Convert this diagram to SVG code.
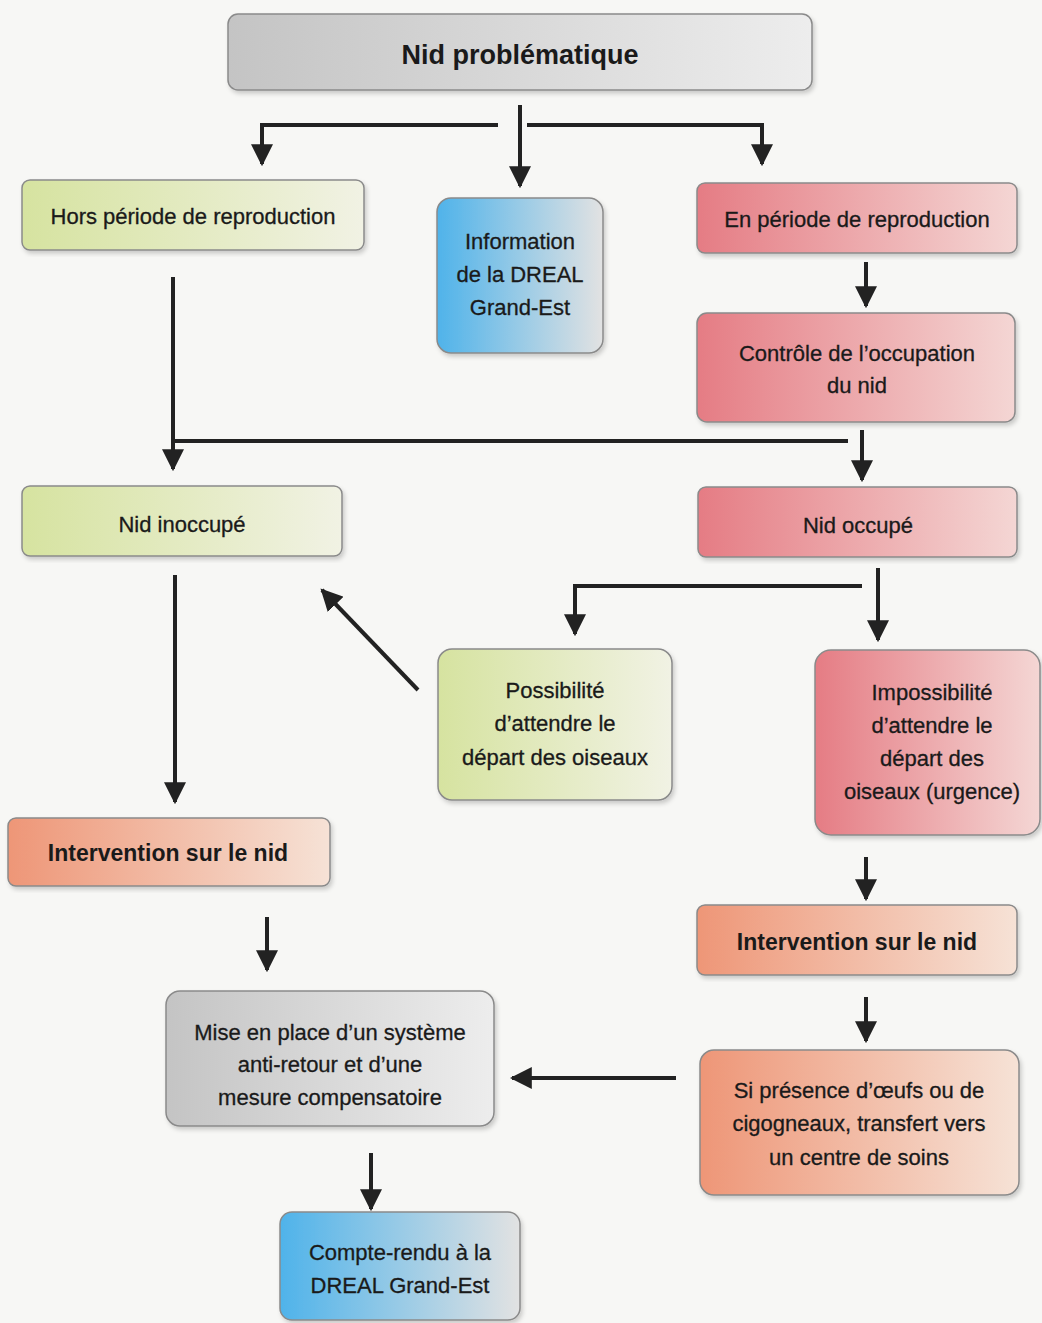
<svg xmlns="http://www.w3.org/2000/svg" width="1042" height="1323" viewBox="0 0 1042 1323">
<defs>
<linearGradient id="gGray" x1="0" y1="0" x2="1" y2="0"><stop offset="0" stop-color="#c4c4c4"/><stop offset="1" stop-color="#ededed"/></linearGradient>
<linearGradient id="gGreen" x1="0" y1="0" x2="1" y2="0"><stop offset="0" stop-color="#d6e3a0"/><stop offset="1" stop-color="#f1f2e4"/></linearGradient>
<linearGradient id="gRed" x1="0" y1="0" x2="1" y2="0"><stop offset="0" stop-color="#e57c84"/><stop offset="1" stop-color="#f4d6d4"/></linearGradient>
<linearGradient id="gOrange" x1="0" y1="0" x2="1" y2="0"><stop offset="0" stop-color="#ee9677"/><stop offset="1" stop-color="#f6e2d6"/></linearGradient>
<linearGradient id="gBlue" x1="0" y1="0" x2="1" y2="0"><stop offset="0" stop-color="#4fb3ea"/><stop offset="1" stop-color="#e2e2e2"/></linearGradient>
<marker id="ah" viewBox="0 0 10 10" refX="9" refY="5" markerWidth="5.5" markerHeight="5.5" markerUnits="strokeWidth" orient="auto"><path d="M0,0 L10,5 L0,10 z" fill="#222"/></marker>
<filter id="sh" x="-5%" y="-5%" width="112%" height="115%"><feDropShadow dx="2" dy="3" stdDeviation="2" flood-color="#000" flood-opacity="0.18"/></filter>
</defs>
<style>
.box{stroke:#8a8a8a;stroke-width:1.5;filter:url(#sh)}
.t{font-family:"Liberation Sans",Arial,sans-serif;font-size:22px;fill:#1a1a1a;text-anchor:middle;stroke:#1a1a1a;stroke-width:0.3}
.b{font-weight:bold;stroke-width:0;font-size:23px}
.title{font-size:27px}
.c{fill:none;stroke:#222;stroke-width:4}
.a{marker-end:url(#ah)}
</style>
<rect width="1042" height="1323" fill="#f7f7f5"/>

<g id="connectors">
<line class="c a" x1="520" y1="105" x2="520" y2="186"/>
<polyline class="c a" points="498,125 262,125 262,164"/>
<polyline class="c a" points="527,125 762,125 762,164"/>
<line class="c a" x1="866" y1="262" x2="866" y2="306"/>
<line class="c a" x1="173" y1="277" x2="173" y2="469"/>
<line class="c" x1="173" y1="441" x2="848" y2="441"/>
<line class="c a" x1="862" y1="430" x2="862" y2="480"/>
<line class="c a" x1="175" y1="575" x2="175" y2="802"/>
<polyline class="c a" points="862,586 575,586 575,634"/>
<line class="c a" x1="878" y1="568" x2="878" y2="640"/>
<line class="c a" x1="418" y1="690" x2="322" y2="590"/>
<line class="c a" x1="267" y1="917" x2="267" y2="970"/>
<line class="c a" x1="866" y1="857" x2="866" y2="899"/>
<line class="c a" x1="866" y1="997" x2="866" y2="1041"/>
<line class="c a" x1="676" y1="1078" x2="512" y2="1078"/>
<line class="c a" x1="371" y1="1153" x2="371" y2="1209"/>
</g>

<g id="n_nid_problematique">
<rect class="box" x="228" y="14" width="584" height="76" rx="10" fill="url(#gGray)"/>
<text class="t b title" x="520" y="64">Nid problématique</text>
</g>
<g id="n_hors_periode">
<rect class="box" x="22" y="180" width="342" height="70" rx="8" fill="url(#gGreen)"/>
<text class="t" x="193" y="224">Hors période de reproduction</text>
</g>
<g id="n_information">
<rect class="box" x="437" y="198" width="166" height="155" rx="14" fill="url(#gBlue)"/>
<text class="t" x="520" y="249">Information</text>
<text class="t" x="520" y="282">de la DREAL</text>
<text class="t" x="520" y="315">Grand-Est</text>
</g>
<g id="n_en_periode">
<rect class="box" x="697" y="183" width="320" height="70" rx="8" fill="url(#gRed)"/>
<text class="t" x="857" y="227">En période de reproduction</text>
</g>
<g id="n_controle">
<rect class="box" x="697" y="313" width="318" height="109" rx="10" fill="url(#gRed)"/>
<text class="t" x="857" y="361">Contrôle de l’occupation</text>
<text class="t" x="857" y="393">du nid</text>
</g>
<g id="n_nid_inoccupe">
<rect class="box" x="22" y="486" width="320" height="70" rx="8" fill="url(#gGreen)"/>
<text class="t" x="182" y="532">Nid inoccupé</text>
</g>
<g id="n_nid_occupe">
<rect class="box" x="698" y="487" width="319" height="70" rx="8" fill="url(#gRed)"/>
<text class="t" x="858" y="533">Nid occupé</text>
</g>
<g id="n_possibilite">
<rect class="box" x="438" y="649" width="234" height="151" rx="14" fill="url(#gGreen)"/>
<text class="t" x="555" y="698">Possibilité</text>
<text class="t" x="555" y="731">d’attendre le</text>
<text class="t" x="555" y="765">départ des oiseaux</text>
</g>
<g id="n_impossibilite">
<rect class="box" x="815" y="650" width="225" height="185" rx="16" fill="url(#gRed)"/>
<text class="t" x="932" y="700">Impossibilité</text>
<text class="t" x="932" y="733">d’attendre le</text>
<text class="t" x="932" y="766">départ des</text>
<text class="t" x="932" y="799">oiseaux (urgence)</text>
</g>
<g id="n_intervention_gauche">
<rect class="box" x="8" y="818" width="322" height="68" rx="8" fill="url(#gOrange)"/>
<text class="t b" x="168" y="861">Intervention sur le nid</text>
</g>
<g id="n_intervention_droite">
<rect class="box" x="697" y="905" width="320" height="70" rx="8" fill="url(#gOrange)"/>
<text class="t b" x="857" y="950">Intervention sur le nid</text>
</g>
<g id="n_si_presence">
<rect class="box" x="700" y="1050" width="319" height="145" rx="14" fill="url(#gOrange)"/>
<text class="t" x="859" y="1098">Si présence d’œufs ou de</text>
<text class="t" x="859" y="1131">cigogneaux, transfert vers</text>
<text class="t" x="859" y="1165">un centre de soins</text>
</g>
<g id="n_mise_en_place">
<rect class="box" x="166" y="991" width="328" height="135" rx="14" fill="url(#gGray)"/>
<text class="t" x="330" y="1040">Mise en place d’un système</text>
<text class="t" x="330" y="1072">anti-retour et d’une</text>
<text class="t" x="330" y="1105">mesure compensatoire</text>
</g>
<g id="n_compte_rendu">
<rect class="box" x="280" y="1212" width="240" height="108" rx="12" fill="url(#gBlue)"/>
<text class="t" x="400" y="1260">Compte-rendu à la</text>
<text class="t" x="400" y="1293">DREAL Grand-Est</text>
</g>
</svg>
